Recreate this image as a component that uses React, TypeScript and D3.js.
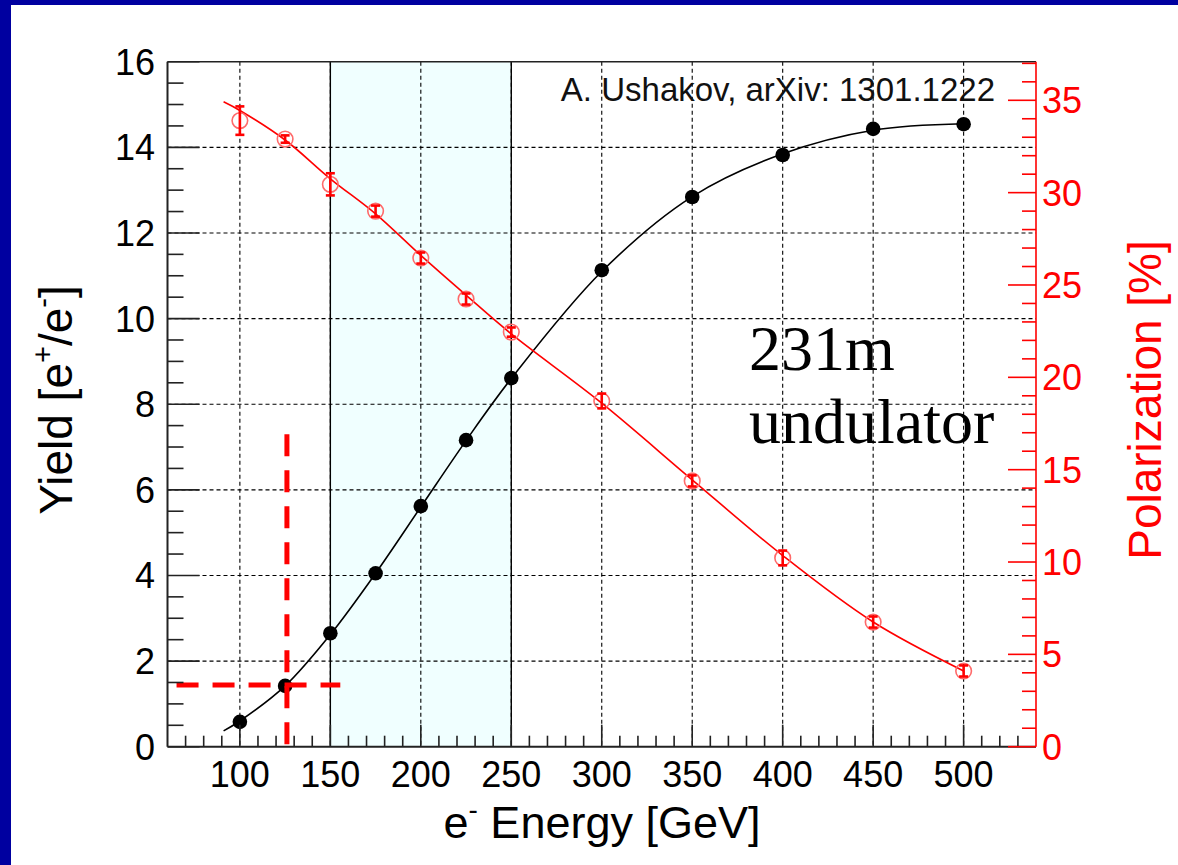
import React from "react";
import * as d3 from "d3";

const energies = [100, 125, 150, 175, 200, 225, 250, 300, 350, 400, 450, 500];
const yieldVals = [0.58, 1.42, 2.65, 4.05, 5.62, 7.16, 8.61, 11.13, 12.84, 13.82, 14.43, 14.54];
const polVals = [33.9, 32.9, 30.45, 29.0, 26.46, 24.24, 22.45, 18.72, 14.39, 10.22, 6.75, 4.1];
const polErr = [0.77, 0.2, 0.6, 0.3, 0.3, 0.3, 0.25, 0.4, 0.3, 0.4, 0.3, 0.3];

const fitEnergy = [91, 100, 125, 150, 175, 200, 225, 250, 300, 350, 400, 450, 500];
const fitYield = [0.37, 0.6, 1.42, 2.62, 4.05, 5.6, 7.15, 8.6, 11.1, 12.85, 13.85, 14.4, 14.55];
const fitPol = [34.92, 34.45, 32.85, 30.75, 28.85, 26.6, 24.45, 22.35, 18.6, 14.45, 10.35, 6.75, 4.1];

const xTicks = [100, 150, 200, 250, 300, 350, 400, 450, 500];
const yLeftTicks = [0, 2, 4, 6, 8, 10, 12, 14, 16];
const yRightTicks = [0, 5, 10, 15, 20, 25, 30, 35];
const bandRange = [150, 250];
const markerH = { energyFrom: 65, energyTo: 155.5, yield: 1.44 };
const markerV = { energy: 126, yieldFrom: 0.06, yieldTo: 7.5 };

const W = 1178, H = 865;
const L = 167.5, R = 1036, T = 61.7, B = 746.7;
const font = "'Liberation Sans', Arial, Helvetica, sans-serif";

export default function App() {
  const x = d3.scaleLinear().domain([60, 540]).range([L, R]);
  const yL = d3.scaleLinear().domain([0, 16]).range([B, T]);
  const yR = d3.scaleLinear().domain([0, 37.09]).range([B, T]);

  const xMinor = d3.range(70, 540, 10).filter((v) => v % 50 !== 0);
  const yLMinor = d3.range(0.5, 16, 0.5).filter((v) => v % 2 !== 0);
  const yRMinor = d3.range(1, 37.01, 1).filter((v) => v % 5 !== 0);

  const lineY = d3.line<number>().x((_, i) => x(fitEnergy[i])).y((d) => yL(d)).curve(d3.curveCatmullRom.alpha(0.5));
  const lineP = d3.line<number>().x((_, i) => x(fitEnergy[i])).y((d) => yR(d)).curve(d3.curveCatmullRom.alpha(0.5));

  return (
    <svg width={W} height={H} style={{ position: "absolute", left: 0, top: 0, background: "#fff" }}>
      <rect x={0} y={0} width={W} height={H} fill="#fff" />
      <rect x={0} y={0} width={W} height={5} fill="#0000a0" />
      <rect x={0} y={0} width={11} height={H} fill="#0000a0" />

      {/* shaded band */}
      <rect x={x(bandRange[0])} y={T} width={x(bandRange[1]) - x(bandRange[0])} height={B - T} fill="#f0ffff" />

      {/* grid */}
      {xTicks.map((t) => (
        <line key={"gx" + t} x1={x(t)} x2={x(t)} y1={T} y2={B} stroke="#000" strokeWidth={1.1} strokeDasharray="4,3" />
      ))}
      {yLeftTicks.filter((t) => t > 0 && t < 16).map((t) => (
        <line key={"gy" + t} x1={L} x2={R} y1={yL(t)} y2={yL(t)} stroke="#000" strokeWidth={1.1} strokeDasharray="4,3" />
      ))}

      {/* band edges */}
      {bandRange.map((e) => (
        <line key={"b" + e} x1={x(e)} x2={x(e)} y1={T} y2={B} stroke="#000" strokeWidth={1.4} />
      ))}

      {/* curves */}
      <path d={lineY(fitYield) || ""} fill="none" stroke="#000" strokeWidth={1.6} />
      <path d={lineP(fitPol) || ""} fill="none" stroke="#ff0000" strokeWidth={1.6} />

      {/* polarization markers */}
      {energies.map((e, i) => {
        const cx = x(e);
        const y0 = yR(polVals[i] - polErr[i]);
        const y1 = yR(polVals[i] + polErr[i]);
        return (
          <g key={"p" + e}>
            <circle cx={cx} cy={yR(polVals[i])} r={7.8} fill="none" stroke="#ff6a6a" strokeWidth={1.6} />
            <line x1={cx} x2={cx} y1={y0} y2={y1} stroke="#ff0000" strokeWidth={2.6} />
            <line x1={cx - 4.5} x2={cx + 4.5} y1={y0} y2={y0} stroke="#ff0000" strokeWidth={2.6} />
            <line x1={cx - 4.5} x2={cx + 4.5} y1={y1} y2={y1} stroke="#ff0000" strokeWidth={2.6} />
          </g>
        );
      })}

      {/* yield markers */}
      {energies.map((e, i) => (
        <circle key={"y" + e} cx={x(e)} cy={yL(yieldVals[i])} r={7.3} fill="#000" />
      ))}

      {/* red dashed guide lines */}
      <line x1={x(markerH.energyFrom)} x2={x(markerH.energyTo)} y1={yL(markerH.yield)} y2={yL(markerH.yield)}
        stroke="#ff0000" strokeWidth={5} strokeDasharray="22,14" />
      <line x1={x(markerV.energy)} x2={x(markerV.energy)} y1={yL(markerV.yieldFrom)} y2={yL(markerV.yieldTo)}
        stroke="#ff0000" strokeWidth={5} strokeDasharray="22,14" />

      {/* frame */}
      <line x1={L} x2={R} y1={T} y2={T} stroke="#222" strokeWidth={1.6} />
      <line x1={L} x2={R} y1={B} y2={B} stroke="#222" strokeWidth={2} />
      <line x1={L} x2={L} y1={T} y2={B} stroke="#222" strokeWidth={2} />

      {/* x ticks */}
      {xTicks.map((t) => (
        <line key={"xt" + t} x1={x(t)} x2={x(t)} y1={B} y2={B - 22} stroke="#222" strokeWidth={1.6} />
      ))}
      {xMinor.map((t) => (
        <line key={"xm" + t} x1={x(t)} x2={x(t)} y1={B} y2={B - 11} stroke="#222" strokeWidth={1.6} />
      ))}
      {xTicks.map((t) => (
        <text key={"xl" + t} x={x(t)} y={787} textAnchor="middle" fontFamily={font} fontSize={36} fill="#000">{t}</text>
      ))}

      {/* left y ticks */}
      {yLeftTicks.map((t) => (
        <line key={"lt" + t} x1={L} x2={L + 32} y1={yL(t)} y2={yL(t)} stroke="#222" strokeWidth={1.6} />
      ))}
      {yLMinor.map((t) => (
        <line key={"lm" + t} x1={L} x2={L + 16} y1={yL(t)} y2={yL(t)} stroke="#222" strokeWidth={1.6} />
      ))}
      {yLeftTicks.map((t) => (
        <text key={"ll" + t} x={155} y={yL(t) + 13} textAnchor="end" fontFamily={font} fontSize={36} fill="#000">{t}</text>
      ))}

      {/* right y axis */}
      <line x1={R} x2={R} y1={T} y2={B} stroke="#ff0000" strokeWidth={1.6} />
      {yRightTicks.map((t) => (
        <line key={"rt" + t} x1={R} x2={R - 28} y1={yR(t)} y2={yR(t)} stroke="#ff0000" strokeWidth={1.6} />
      ))}
      {yRMinor.map((t) => (
        <line key={"rm" + t} x1={R} x2={R - 14} y1={yR(t)} y2={yR(t)} stroke="#ff0000" strokeWidth={1.6} />
      ))}
      {yRightTicks.map((t) => (
        <text key={"rl" + t} x={1042} y={yR(t) + 13} textAnchor="start" fontFamily={font} fontSize={36} fill="#ff0000">{t}</text>
      ))}

      {/* axis titles */}
      <text x={602} y={838} textAnchor="middle" fontFamily={font} fontSize={45} fill="#000">
        e<tspan fontSize={28} dy={-19}>-</tspan><tspan dy={19}> Energy [GeV]</tspan>
      </text>
      <text transform={`translate(72,400) rotate(-90)`} textAnchor="middle" fontFamily={font} fontSize={46} fill="#000">
        Yield [e<tspan fontSize={29} dy={-19}>+</tspan><tspan dy={19}>/e</tspan><tspan fontSize={29} dy={-19}>-</tspan><tspan dy={19}>]</tspan>
      </text>
      <text transform={`translate(1161,400) rotate(-90)`} textAnchor="middle" fontFamily={font} fontSize={46} fill="#ff0000">
        Polarization [%]
      </text>

      {/* annotations */}
      <text x={995} y={101} textAnchor="end" fontFamily={font} fontSize={33} fill="#111">A. Ushakov, arXiv: 1301.1222</text>
      <text x={749} y={370} fontFamily="'Liberation Serif', 'Times New Roman', serif" fontSize={64} fill="#000">231m</text>
      <text x={749} y={443} fontFamily="'Liberation Serif', 'Times New Roman', serif" fontSize={64} fill="#000">undulator</text>
    </svg>
  );
}
